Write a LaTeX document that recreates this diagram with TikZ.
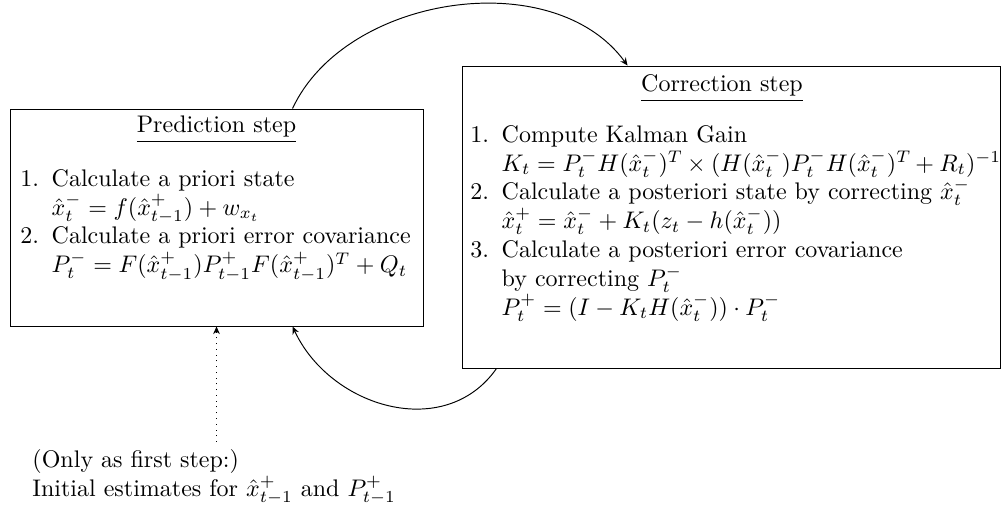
\documentclass[tikz,border=0pt]{standalone}
\usetikzlibrary{arrows.meta,fit,calc}
\begin{document}
\begin{tikzpicture}[x=0.4167pt,y=-0.4167pt,
  stepbox/.style={draw,inner sep=0pt},
  txt/.style={inner sep=0pt,align=left,anchor=north west},
  flow/.style={-{Stealth[length=3.2pt,width=2.8pt]}},
  initarrow/.style={dotted,-{Stealth[length=3.2pt,width=2.8pt]}}]
\useasboundingbox (0,0) rectangle (1003,510);
\newcommand{\lbl}[1]{\makebox[13pt][l]{#1}}
\newcommand{\ind}{\hspace*{13pt}}
\node[stepbox,fit={(10,109) (423,326)}] (pred) {};
\node[stepbox,fit={(462,66) (1000,368)}] (corr) {};
\node[inner sep=0pt,anchor=base] (predtitle) at (216.5,133) {\underline{Prediction step}};
\node[inner sep=0pt,anchor=base] (corrtitle) at (722,92) {\underline{Correction step}};
\node[txt] (predlist) at (20,169) {%
\lbl{1.}Calculate a priori state\\
\ind$\hat{x}_t^- = f(\hat{x}_{t-1}^+) + w_{x_t}$\\
\lbl{2.}Calculate a priori error covariance\\
\ind$P_t^- = F(\hat{x}_{t-1}^+)P_{t-1}^+F(\hat{x}_{t-1}^+)^T + Q_t$};
\node[txt] (corrlist) at (470,125) {%
\lbl{1.}Compute Kalman Gain\\
\ind${\medmuskip=0mu K_t = P_t^- H(\hat{x}_t^-)^T\mkern-1mu \times (H(\hat{x}_t^-)P_t^- H(\hat{x}_t^-)^T\mkern-1mu + R_t)^{-1}}$\\
\lbl{2.}Calculate a posteriori state by correcting $\hat{x}_t^-$\\
\ind$\hat{x}_t^+ = \hat{x}_t^- + K_t(z_t - h(\hat{x}_t^-))$\\
\lbl{3.}Calculate a posteriori error covariance\\
\ind by correcting $P_t^-$\\
\ind$P_t^+ = (I - K_t H(\hat{x}_t^-)) \cdot P_t^-$};
\node[txt] (init) at (32,449) {(Only as first step:)\\
Initial estimates for $\hat{x}_{t-1}^+$ and $P_{t-1}^+$};
\coordinate (p1) at ($(pred.north west)+(283,0)$);
\coordinate (c1) at ($(corr.north west)+(166,0)$);
\coordinate (c2) at ($(corr.south west)+(35,0)$);
\coordinate (p2) at ($(pred.south west)+(283,0)$);
\coordinate (i1) at (pred.south |- 0,442);
\draw[flow] (p1) to[out=65,in=126,looseness=0.95] (c1);
\draw[flow] (c2) to[out=235,in=295,looseness=1.1] (p2);
\draw[initarrow] (i1) -- (pred.south);
\end{tikzpicture}
\end{document}
